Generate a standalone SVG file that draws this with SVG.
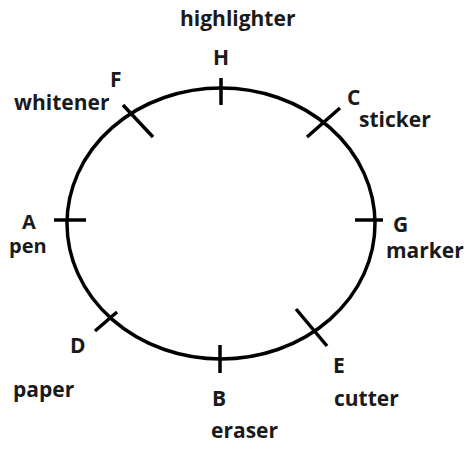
<svg xmlns="http://www.w3.org/2000/svg" width="474" height="454" viewBox="0 0 474 454">
<style>
.lbl{font-family:"Open Sans","DejaVu Sans",sans-serif;font-weight:bold;font-size:21px;fill:#1a1a1a}
.sm{font-size:20px}
.ln{stroke:#000;stroke-width:3.5;fill:none}
</style>
<rect width="474" height="454" fill="#fff"/>
<g id="circle"><ellipse class="ln" cx="221" cy="223.5" rx="154" ry="135.5"/></g>
<g id="connectors">
<line class="ln" x1="221" y1="78" x2="221" y2="105"/>
<line class="ln" x1="54" y1="220" x2="86" y2="220"/>
<line class="ln" x1="355" y1="220" x2="383" y2="220"/>
<line class="ln" x1="220" y1="345" x2="220" y2="373"/>
<line class="ln" x1="123" y1="105" x2="153" y2="137"/>
<line class="ln" x1="307" y1="137" x2="340" y2="108"/>
<line class="ln" x1="95" y1="331" x2="117" y2="312"/>
<line class="ln" x1="296" y1="309" x2="327" y2="346"/>
</g>
<g id="H"><text class="lbl" x="180" y="26">highlighter</text><text class="lbl" x="213" y="65">H</text></g>
<g id="F"><text class="lbl" x="110" y="87">F</text><text class="lbl" x="14" y="110">whitener</text></g>
<g id="C"><text class="lbl" x="347" y="105">C</text><text class="lbl" x="359" y="127">sticker</text></g>
<g id="A"><text class="lbl sm" x="22" y="229">A</text><text class="lbl sm" x="9" y="253">pen</text></g>
<g id="G"><text class="lbl" x="393" y="232">G</text><text class="lbl" x="386" y="258">marker</text></g>
<g id="D"><text class="lbl" x="70" y="353">D</text><text class="lbl" x="13" y="397">paper</text></g>
<g id="B"><text class="lbl" x="212" y="406">B</text><text class="lbl" x="211" y="438">eraser</text></g>
<g id="E"><text class="lbl" x="333" y="373">E</text><text class="lbl" x="334" y="406">cutter</text></g>
</svg>
